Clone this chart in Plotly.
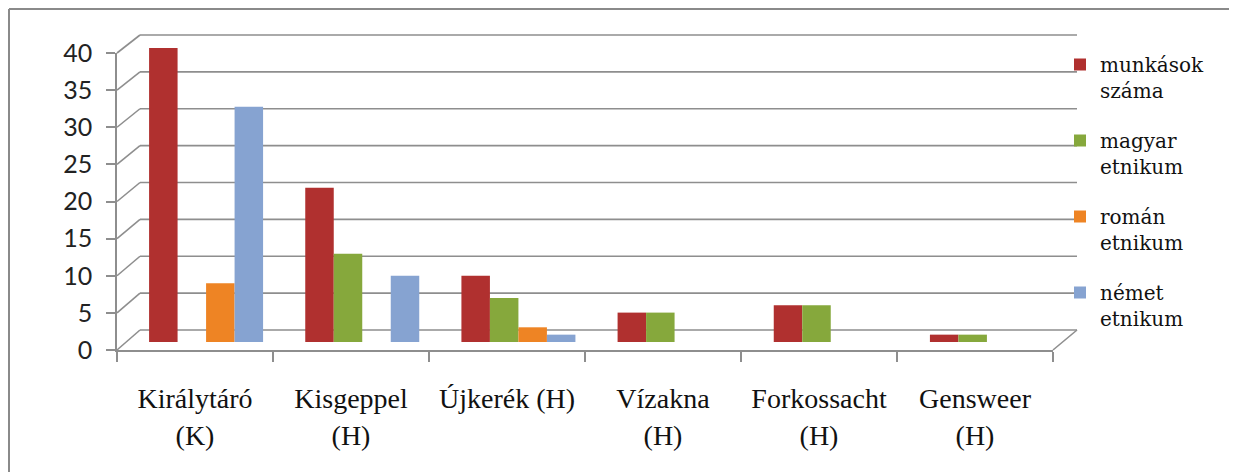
import plotly.graph_objects as go

W, H = 1237, 472
OFF = 8  # page body margin offset of the rendered figure

categories = ["Királytáró<br>(K)", "Kisgeppel<br>(H)", "Újkerék (H)", "Vízakna<br>(H)", "Forkossacht<br>(H)", "Gensweer<br>(H)"]
munkasok = [40, 21, 9, 4, 5, 1]
magyar = [0, 12, 6, 4, 5, 1]
roman = [8, 0, 2, 0, 0, None]
nemet = [32, 9, 1, 0, 0, None]

series_names = ["munkások<br>száma", "magyar<br>etnikum", "román<br>etnikum", "német<br>etnikum"]
series_values = [munkasok, magyar, roman, nemet]
series_colors = ["#B0302F", "#86A83C", "#EE8424", "#86A3D1"]

y_ticks = list(range(0, 41, 5))

SERIF = "Liberation Serif"


def fx(p):
    return (p - OFF) / W


def fy(p):
    return 1 - (p - OFF) / H


# pixel geometry (screen) of the pseudo-3D frame
FRONT_L, FRONT_R, FRONT_BOT, FRONT_TOP = 117, 1053, 350, 53
BACK_L, BACK_R, BACK_BOT, BACK_TOP = 140, 1077, 330, 35


def front_px(v):
    return FRONT_BOT - (FRONT_BOT - FRONT_TOP) * v / 40


def back_px(v):
    return BACK_BOT - (BACK_BOT - BACK_TOP) * v / 40


fig = go.Figure()

for name, vals, col in zip(series_names, series_values, series_colors):
    fig.add_trace(go.Bar(
        x=categories, y=vals, name=name, legendgroup=name,
        marker=dict(color=col, line=dict(width=0)),
        xaxis="x", yaxis="y",
    ))

# invisible helper trace so the front category axis gets its categories
fig.add_trace(go.Scatter(
    x=categories, y=munkasok, xaxis="x2", yaxis="y2", mode="markers",
    marker=dict(opacity=0), showlegend=False, hoverinfo="skip",
))

GRID = "#8E8E8E"
shapes = []
for v in y_ticks:
    shapes.append(dict(type="line", xref="paper", yref="paper",
                       x0=fx(BACK_L), x1=fx(BACK_R), y0=fy(back_px(v)), y1=fy(back_px(v)),
                       line=dict(color=GRID, width=1.6), layer="below"))
    shapes.append(dict(type="line", xref="paper", yref="paper",
                       x0=fx(FRONT_L), x1=fx(BACK_L), y0=fy(front_px(v)), y1=fy(back_px(v)),
                       line=dict(color=GRID, width=1.6), layer="below"))
shapes.append(dict(type="line", xref="paper", yref="paper",
                   x0=fx(FRONT_R), x1=fx(BACK_R), y0=fy(front_px(0)), y1=fy(back_px(0)),
                   line=dict(color=GRID, width=1.6), layer="below"))
# outer chart frame (top and left edges)
shapes.append(dict(type="line", xref="paper", yref="paper",
                   x0=fx(9), x1=1, y0=fy(9), y1=fy(9), line=dict(color="#8A8A8A", width=2)))
shapes.append(dict(type="line", xref="paper", yref="paper",
                   x0=fx(9), x1=fx(9), y0=fy(9), y1=0, line=dict(color="#8A8A8A", width=2)))

fig.update_layout(
    width=W, height=H,
    font=dict(family=SERIF, color="#111111"),
    margin=dict(l=0, r=0, t=0, b=0, autoexpand=False),
    paper_bgcolor="white", plot_bgcolor="rgba(0,0,0,0)",
    barmode="group", bargap=0.27, bargroupgap=0,
    showlegend=True,
    legend=dict(
        x=fx(1060), y=fy(45), xanchor="left", yanchor="top",
        font=dict(family="DejaVu Serif", size=20, color="#111111"),
        traceorder="grouped", tracegroupgap=21, valign="top",
        itemsizing="constant", bgcolor="rgba(0,0,0,0)",
    ),
    shapes=shapes,
    xaxis=dict(domain=[fx(128), fx(1065)], visible=False, type="category",
               range=[-0.5, 5.5], fixedrange=True),
    yaxis=dict(domain=[fy(342), fy(48)], visible=False, range=[0, 40], fixedrange=True),
    xaxis2=dict(domain=[fx(FRONT_L), fx(FRONT_R)], anchor="y2", type="category",
                range=[-0.5, 5.5], tickson="boundaries", ticks="outside", ticklen=10,
                tickcolor=GRID, tickwidth=1.6, showline=True, linecolor=GRID, linewidth=1.6,
                showgrid=False, zeroline=False,
                tickfont=dict(family=SERIF, size=28, color="#111111"),
                ticklabelstandoff=23),
    yaxis2=dict(domain=[fy(FRONT_BOT), fy(FRONT_TOP)], anchor="x2", range=[0, 40],
                tickvals=y_ticks, ticks="outside", ticklen=9, tickcolor=GRID, tickwidth=1.6,
                showline=True, linecolor=GRID, linewidth=1.6, showgrid=False, zeroline=False,
                tickfont=dict(family="Lato", size=25, color="#222222"),
                ticklabelstandoff=9),
)

fig.write_html("out.html")
